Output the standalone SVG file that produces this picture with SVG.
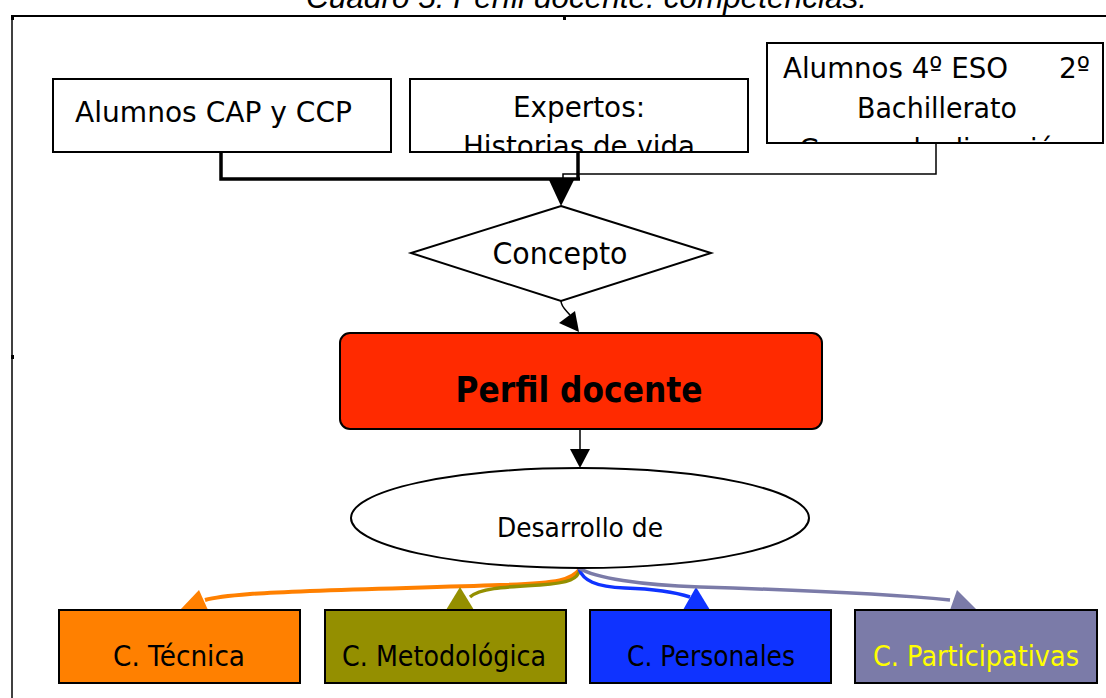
<svg xmlns="http://www.w3.org/2000/svg" width="1106" height="698" viewBox="0 0 1106 698">
<style>
.box{fill:#fff;stroke:#000;stroke-width:2}
.lbl{font-family:"DejaVu Sans",Verdana,sans-serif;font-size:29px;fill:#000}
.blbl{font-family:"DejaVu Sans",Verdana,sans-serif;font-size:28px;text-anchor:middle}
.dark{fill:#000}
.yel{fill:#ffff00}
.cbox{stroke:#000;stroke-width:2}
.conn{fill:none}
</style>
<defs>
<clipPath id="clipB2"><rect x="411" y="80" width="336" height="71"/></clipPath>
<clipPath id="clipB3"><rect x="768" y="44" width="335" height="98"/></clipPath>
</defs>
<rect x="0" y="0" width="1106" height="698" fill="#fff"/>
<g id="title">
<text x="306" y="8" font-family="'Liberation Sans',Arial,sans-serif" font-style="italic" font-size="31.5" textLength="561" lengthAdjust="spacingAndGlyphs" fill="#000">Cuadro 5. Perfil docente: competencias.</text>
</g>
<g id="frame">
<line x1="11" y1="16" x2="1106" y2="16" stroke="#000" stroke-width="2"/>
<line x1="12" y1="16" x2="12" y2="698" stroke="#000" stroke-width="1.5"/>
<rect x="11" y="16" width="3" height="4" fill="#000"/>
<rect x="563" y="16" width="3" height="4" fill="#000"/>
<rect x="11" y="355" width="3" height="4" fill="#000"/>
</g>
<g id="connectors">
<path class="conn" d="M936,143 V174 H563 V180" stroke="#000" stroke-width="1.5"/>
<path class="conn" d="M221,152 V179 H580" stroke="#000" stroke-width="3.5"/>
<path class="conn" d="M578,152 V180" stroke="#000" stroke-width="3.5"/>
<polygon points="549,180 574,180 561,206" fill="#000"/>
<path class="conn" d="M561,301 C561,307 567,311 570,315" stroke="#000" stroke-width="1.5"/>
<polygon points="559,323 575,311 579,332" fill="#000"/>
<line x1="580" y1="429" x2="580" y2="450" stroke="#000" stroke-width="1.5"/>
<polygon points="570,449 590,449 580,468" fill="#000"/>
<path class="conn" d="M580,569 C572,580 560,583 500,585 C420,588 300,590 250,594 C225,596 212,598 205,600" stroke="#ff8000" stroke-width="4"/>
<polygon points="180,610 208,610 199,590" fill="#ff8000"/>
<path class="conn" d="M580,569 C578,579 570,583 540,585 C505,587 480,588 470,597" stroke="#948f00" stroke-width="3.5"/>
<polygon points="446,610 474,610 460,587" fill="#948f00"/>
<path class="conn" d="M579,569 C583,580 595,587 625,588 C655,589 675,592 690,597" stroke="#0f33ff" stroke-width="3.5"/>
<polygon points="683,610 710,610 696,587" fill="#0f33ff"/>
<path class="conn" d="M579,568 C595,578 640,585 700,587 C800,590 880,593 950,600" stroke="#7b7ba8" stroke-width="3.5"/>
<polygon points="950,610 977,610 957,590" fill="#7b7ba8"/>
</g>
<g id="n_cap">
<rect class="box" x="53" y="79" width="338" height="73"/>
<text class="lbl" x="75" y="122" textLength="277" lengthAdjust="spacingAndGlyphs">Alumnos CAP y CCP</text>
</g>
<g id="n_expertos">
<rect class="box" x="410" y="79" width="338" height="73"/>
<g clip-path="url(#clipB2)">
<text class="lbl" x="579" y="117" text-anchor="middle" textLength="132" lengthAdjust="spacingAndGlyphs">Expertos:</text>
<text class="lbl" x="579" y="156" text-anchor="middle" textLength="232" lengthAdjust="spacingAndGlyphs">Historias de vida</text>
</g>
</g>
<g id="n_eso">
<rect class="box" x="767" y="43" width="336" height="100"/>
<g clip-path="url(#clipB3)">
<text class="lbl" y="78"><tspan x="783" textLength="225" lengthAdjust="spacingAndGlyphs">Alumnos 4º ESO</tspan><tspan x="1059" textLength="31" lengthAdjust="spacingAndGlyphs">2º</tspan></text>
<text class="lbl" x="937" y="118" text-anchor="middle" textLength="160" lengthAdjust="spacingAndGlyphs">Bachillerato</text>
<text class="lbl" x="935" y="159" text-anchor="middle" textLength="272" lengthAdjust="spacingAndGlyphs">Grupos de discusión</text>
</g>
</g>
<g id="n_concepto">
<polygon points="561,206 711,253 561,301 411,253" fill="#fff" stroke="#000" stroke-width="2"/>
<text x="560" y="264" text-anchor="middle" font-family="'DejaVu Sans',Verdana,sans-serif" font-size="30" textLength="135" lengthAdjust="spacingAndGlyphs">Concepto</text>
</g>
<g id="n_perfil">
<rect x="340" y="333" width="482" height="96" rx="10" ry="10" fill="#ff2a00" stroke="#000" stroke-width="2"/>
<text x="579" y="402" text-anchor="middle" font-family="'DejaVu Sans',Verdana,sans-serif" font-weight="bold" font-size="35" textLength="247" lengthAdjust="spacingAndGlyphs">Perfil docente</text>
</g>
<g id="n_desarrollo">
<ellipse cx="580" cy="518" rx="229" ry="50" fill="#fff" stroke="#000" stroke-width="2"/>
<text x="580" y="537" text-anchor="middle" font-family="'DejaVu Sans',Verdana,sans-serif" font-size="27" textLength="166" lengthAdjust="spacingAndGlyphs">Desarrollo de</text>
</g>
<g id="n_tecnica">
<rect class="cbox" x="59" y="610" width="241" height="73" fill="#ff8000"/>
<text class="blbl dark" x="179" y="666" textLength="132" lengthAdjust="spacingAndGlyphs">C. Técnica</text>
</g>
<g id="n_metodologica">
<rect class="cbox" x="325" y="610" width="241" height="73" fill="#948f00"/>
<text class="blbl dark" x="444" y="666" textLength="204" lengthAdjust="spacingAndGlyphs">C. Metodológica</text>
</g>
<g id="n_personales">
<rect class="cbox" x="590" y="610" width="241" height="73" fill="#0f33ff"/>
<text class="blbl dark" x="711" y="666" textLength="168" lengthAdjust="spacingAndGlyphs">C. Personales</text>
</g>
<g id="n_participativas">
<rect class="cbox" x="855" y="610" width="242" height="73" fill="#7b7ba8"/>
<text class="blbl yel" x="976" y="666" textLength="206" lengthAdjust="spacingAndGlyphs">C. Participativas</text>
</g>
</svg>
